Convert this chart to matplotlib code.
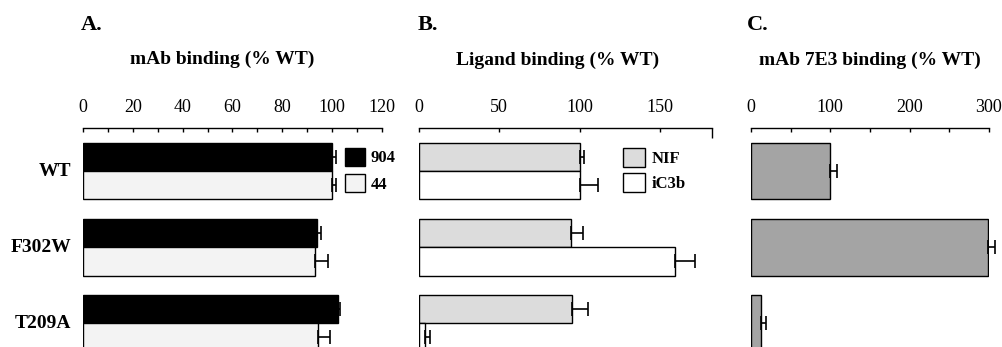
import matplotlib.pyplot as plt
import numpy as np
from matplotlib.patches import Patch

plt.rcParams['font.family'] = ['Liberation Serif', 'DejaVu Serif']

mutants = ['WT', 'F302W', 'T209A']

# A. mAb binding (% WT)
mab904 = [100, 94, 102.5]
mab904_err = [1.5, 1.5, 0.8]
mab44 = [100, 93.3, 94.3]
mab44_err = [1.5, 5, 5]

# B. Ligand binding (% WT)
nif = [100, 94.7, 95.5]
nif_err = [2.5, 7.5, 9.5]
ic3b = [100, 159.7, 3.7]
ic3b_err = [11.5, 12, 3.2]

# C. mAb 7E3 binding (% WT)
mab7e3 = [100, 299, 13]
mab7e3_err = [8, 8.5, 6.5]

W, H = 1003, 347
fig = plt.figure(figsize=(W / 100, H / 100), dpi=100)

def make_ax(x0, x1):
    top = 128
    ax = fig.add_axes([x0 / W, 0, (x1 - x0) / W, (H - top) / H])
    y = np.arange(len(mutants))
    ax.set_ylim(2.31, -0.57)
    for s in ['left', 'right', 'bottom']:
        ax.spines[s].set_visible(False)
    ax.spines['top'].set_linewidth(1.0)
    ax.xaxis.tick_top()
    ax.set_yticks([])
    ax.tick_params(axis='x', which='both', direction='in', labelsize=13, pad=9, width=1)
    ax.patch.set_alpha(0)
    return ax, y

def unclip(ax):
    for a in ax.lines + ax.collections:
        a.set_clip_on(False)

bh = 0.37
ekw = dict(ecolor='black', elinewidth=1.2, capsize=5, capthick=1.2)

# panel A
axA, y = make_ax(83, 382)
axA.barh(y - bh / 2, mab904, bh, xerr=[np.zeros(3), mab904_err], color='black',
         edgecolor='black', linewidth=1, error_kw=ekw, label='904')
axA.barh(y + bh / 2, mab44, bh, xerr=[np.zeros(3), mab44_err], color='#f3f3f3',
         edgecolor='black', linewidth=1, error_kw=ekw, label='44')
axA.set_xlim(0, 120)
axA.set_xticks(np.arange(0, 121, 20))
axA.set_xticks(np.arange(0, 121, 10), minor=True)
axA.tick_params(axis='x', which='both', length=3)
for i, m in enumerate(mutants):
    axA.text(-0.04, i, m, transform=axA.get_yaxis_transform(), ha='right', va='center',
             fontsize=14, fontweight='bold')
axA.legend(handles=[Patch(facecolor='black', edgecolor='black', label='904'),
                    Patch(facecolor='#f3f3f3', edgecolor='black', label='44')],
           loc='upper left', bbox_to_anchor=(0.855, 0.94), frameon=False,
           handlelength=1.2, handleheight=1.3, handletextpad=0.3, labelspacing=0.45,
           prop={'size': 12, 'weight': 'bold'}, borderaxespad=0)
unclip(axA)
fig.text(81 / W, 1 - 25 / H, 'A.', fontsize=16, fontweight='bold', va='center')
fig.text(222 / W, 1 - 59 / H, 'mAb binding (% WT)', fontsize=14, fontweight='bold',
         ha='center', va='center')

# panel B
axB, y = make_ax(419, 712)
axB.barh(y - bh / 2, nif, bh, xerr=[np.zeros(3), nif_err], color='#dcdcdc',
         edgecolor='black', linewidth=1, error_kw=ekw)
axB.barh(y + bh / 2, ic3b, bh, xerr=[np.zeros(3), ic3b_err], color='white',
         edgecolor='black', linewidth=1, error_kw=ekw)
axB.set_xlim(0, 182.5)
axB.set_xticks([0, 50, 100, 150])
axB.set_xticks([0, 100, 182.5], minor=True)
axB.tick_params(axis='x', which='major', length=3)
axB.tick_params(axis='x', which='minor', length=7)
axB.legend(handles=[Patch(facecolor='#dcdcdc', edgecolor='black', label='NIF'),
                    Patch(facecolor='white', edgecolor='black', label='iC3b')],
           loc='upper left', bbox_to_anchor=(0.675, 0.94), frameon=False,
           handlelength=1.3, handleheight=1.4, handletextpad=0.4, labelspacing=0.35,
           prop={'size': 12, 'weight': 'bold'}, borderaxespad=0)
unclip(axB)
fig.text(418 / W, 1 - 25 / H, 'B.', fontsize=16, fontweight='bold', va='center')
fig.text(558 / W, 1 - 60 / H, 'Ligand binding (% WT)', fontsize=14, fontweight='bold',
         ha='center', va='center')

# panel C
axC, y = make_ax(751, 989)
axC.barh(y, mab7e3, 2 * bh, xerr=[np.zeros(3), mab7e3_err], color='#a4a4a4',
         edgecolor='black', linewidth=1, error_kw=ekw)
axC.set_xlim(0, 300)
axC.set_xticks([0, 100, 200, 300])
axC.set_xticks(np.arange(0, 301, 50), minor=True)
axC.tick_params(axis='x', which='both', length=3)
unclip(axC)
fig.text(747 / W, 1 - 25 / H, 'C.', fontsize=16, fontweight='bold', va='center')
fig.text(870 / W, 1 - 60 / H, 'mAb 7E3 binding (% WT)', fontsize=14, fontweight='bold',
         ha='center', va='center')

fig.savefig('out.png', dpi=100)
